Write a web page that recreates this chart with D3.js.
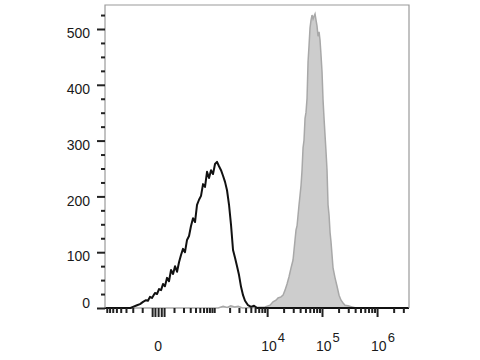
<!DOCTYPE html>
<html>
<head>
<meta charset="utf-8">
<script src="https://cdn.jsdelivr.net/npm/d3@7"></script>
<style>
  body { margin: 0; background: #fff; }
  text { font-family: "Liberation Sans", Arial, sans-serif; fill: #1a1a1a; }
</style>
</head>
<body>
<svg id="chart" width="480" height="360"></svg>
<script>
// unstained control (black outline) - fluorescence value / event count
const blackX = [-870, -230, -197, -150, -120, -93, -70, -56, -43, -31, -15, -5, 4, 14, 24, 35, 48, 61, 76, 92,
  109, 128, 148, 170, 194, 220, 249, 280, 313, 350, 390, 433, 480, 531, 587, 647, 713, 784, 862, 946,
  1038, 1137, 1246, 1364, 1492, 1632, 1783, 1948, 2127, 2322, 2533, 2764, 3014, 3286, 3582, 3903, 4438,
  5046, 5735, 6515, 3800000]
const blackY = [0, 0, 2, 5, 7, 11, 14, 13, 20, 18, 27, 25, 34, 32, 43, 39, 54, 48, 68, 61,
  75, 65, 82, 95, 106, 100, 122, 129, 147, 161, 154, 185, 194, 201, 222, 217, 244, 233, 247, 240,
  258, 262, 254, 247, 237, 226, 211, 185, 149, 104, 90, 75, 59, 38, 23, 13, 5,
  2, 4, 0, 0]

// stained sample (gray filled)
const grayX = [-870, 1200, 1500, 1800, 2100, 2500, 2900, 3500, 9148, 11300, 12815, 14544, 15826, 17956,
  19536, 21242, 23108, 25122, 27327, 29724, 32319, 33708, 35160, 38224, 39856, 41573, 43354, 45220,
  47128, 49152, 51262, 53466, 55756, 58152, 60579, 63187, 65890, 68720, 71667, 74677, 77889, 81228,
  84715, 88351, 92050, 96004, 100127, 104420, 108904, 113473, 118349, 123426, 128726, 134249, 139878,
  145868, 158671, 172473, 187578, 204000, 221678, 241108, 262222, 297182, 351178, 415096, 3800000]
const grayY = [0, 0, 3, 1, 4, 2, 3, 0, 2, 5, 11, 14, 18, 20,
  23, 32, 43, 56, 72, 86, 122, 140, 147, 185, 202, 220, 247, 287,
  301, 340, 351, 376, 441, 471, 502, 516, 525, 518, 523, 527, 516, 505,
  487, 495, 480, 453, 423, 373, 340, 310, 280, 247, 185, 167, 136,
  118, 72, 54, 39, 23, 14, 9, 5, 4, 2, 0, 0]

const yMajor = [0, 100, 200, 300, 400, 500]
const xLabelTicks = [0, 1e4, 1e5, 1e6]
const xLabelExp = [null, "4", "5", "6"]

function make_scales(margin) {
  return {
    x: d3.scaleSymlog()
      .constant(106)
      .domain([-870, 3800000])
      .range([margin.left, 480 - margin.right]),
    y: d3.scaleLinear()
      .domain([0, 543])
      .range([360 - margin.bottom, margin.top])
  }
}

function zip(xs, ys) {
  return xs.map((x, i) => ({x: x, y: ys[i]}))
}

function draw_hist(svg, scales) {
  let area = d3.area()
    .x(d => scales.x(d.x))
    .y0(scales.y(0))
    .y1(d => scales.y(d.y))
  let line = d3.line()
    .x(d => scales.x(d.x))
    .y(d => scales.y(d.y))

  let gray = zip(grayX, grayY)
  svg.append("path")
    .attr("d", area(gray))
    .attr("fill", "#cdcdcd")
  svg.append("path")
    .attr("d", line(gray))
    .attr("fill", "none")
    .attr("stroke", "#a8a8a8")
    .attr("stroke-width", 1.5)

  svg.append("path")
    .attr("d", line(zip(blackX, blackY)))
    .attr("fill", "none")
    .attr("stroke", "#111")
    .attr("stroke-width", 2)
    .attr("stroke-linejoin", "round")
}

function draw_frame(svg, scales) {
  let [x0, x1] = scales.x.range()
  let [y0, y1] = scales.y.range()
  svg.append("path")
    .attr("d", `M${x0},${y0}V${y1}H${x1}V${y0}`)
    .attr("fill", "none")
    .attr("stroke", "#9a9a9a")
    .attr("stroke-width", 1.2)
}

function draw_axes(svg, scales) {
  let y0 = scales.y.range()[0]
  let x0 = scales.x.range()[0]

  // y axis: minor every 25, major every 100
  let yMinor = d3.range(25, 540, 25).filter(v => v % 100 !== 0)
  svg.append("g")
    .attr("transform", `translate(${x0},0)`)
    .call(d3.axisLeft(scales.y).tickValues(yMinor).tickSize(4).tickFormat(""))
    .call(g => g.select(".domain").remove())
  let yAx = svg.append("g")
    .attr("transform", `translate(${x0},0)`)
    .call(d3.axisLeft(scales.y).tickValues(yMajor).tickSize(8).tickPadding(7))
    .call(g => g.select(".domain").remove())
  yAx.selectAll("text")
    .attr("font-size", 14)
    .attr("dy", d => d === 0 ? "-0.05em" : "0.62em")
  svg.selectAll(".tick line").attr("stroke", "#222").attr("stroke-width", 2)

  // x axis: biexponential style ticks
  let xMinor = []
  for (let v = -800; v <= 900; v += 100) if (v !== 0) xMinor.push(v)
  for (let e = 3; e <= 6; e++) {
    for (let m = 1; m <= 9; m++) {
      let v = m * Math.pow(10, e)
      if (v <= 3800000 && !xLabelTicks.includes(v)) xMinor.push(v)
    }
  }
  let xZero = [-30, -15, 15, 30]
  let gx = svg.append("g").attr("transform", `translate(0,${y0})`)
  gx.append("g")
    .call(d3.axisBottom(scales.x).tickValues(xMinor).tickSize(5).tickFormat(""))
    .call(g => g.select(".domain").remove())
  gx.append("g")
    .call(d3.axisBottom(scales.x).tickValues(xZero.concat(xLabelTicks)).tickSize(9).tickFormat(""))
    .call(g => g.select(".domain").remove())
  gx.selectAll(".tick line").attr("stroke", "#222").attr("stroke-width", 2)

  // x labels
  xLabelTicks.forEach((v, i) => {
    let px = scales.x(v)
    let t = svg.append("text")
      .attr("font-size", 14)
      .attr("y", 351)
    if (xLabelExp[i] === null) {
      t.attr("x", px).attr("text-anchor", "middle").text("0")
    } else {
      t.attr("x", px - 6).attr("text-anchor", "start")
      t.append("tspan").text("10")
      t.append("tspan").attr("font-size", 13).attr("dy", -9).attr("dx", 1).text(xLabelExp[i])
    }
  })
}

function visualize() {
  let margin = {top: 5, right: 71, bottom: 52, left: 105}
  let svg = d3.select("#chart")
  let scales = make_scales(margin)
  draw_hist(svg, scales)
  draw_frame(svg, scales)
  draw_axes(svg, scales)
}

visualize()
</script>
</body>
</html>
